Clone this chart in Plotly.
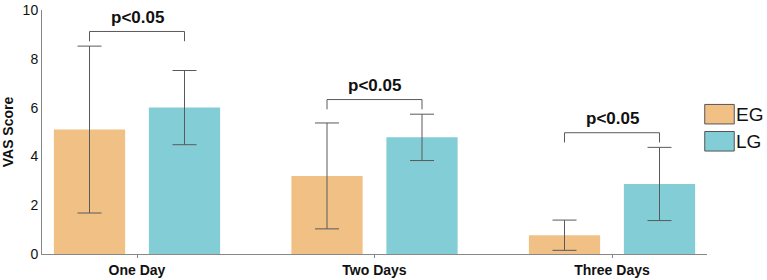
import plotly.graph_objects as go

categories = ["One Day", "Two Days", "Three Days"]
series_names = ["EG", "LG"]
eg_values = [5.1, 3.2, 0.77]
eg_errors = [3.42, 2.17, 0.62]
lg_values = [6.0, 4.78, 2.87]
lg_errors = [1.52, 0.95, 1.5]
p_labels = ["p<0.05", "p<0.05", "p<0.05"]
y_ticks = [0, 2, 4, 6, 8, 10]

colors = ["#F0C085", "#82CDD6"]
err_color = "#5a5a5a"
font_family = "Arial, Liberation Sans, sans-serif"

bar_width = 0.3
offsets = [-0.35, 0.05]

fig = go.Figure()
for name, vals, errs, col, off in zip(series_names, [eg_values, lg_values],
                                      [eg_errors, lg_errors], colors, offsets):
    fig.add_trace(go.Bar(
        x=categories, y=vals, name=name, width=bar_width, offset=off,
        marker=dict(color=col, line=dict(width=0)),
        error_y=dict(type="data", array=errs, visible=True, color=err_color,
                     thickness=1, width=12),
        showlegend=False,
    ))

# significance brackets
shapes = []
annotations = []
for i, cat in enumerate(categories):
    top_eg = eg_values[i] + eg_errors[i]
    top_lg = lg_values[i] + lg_errors[i]
    base = max(top_eg, top_lg) + 0.2
    top = base + 0.4
    x0 = i + offsets[0] + bar_width / 2
    x1 = i + offsets[1] + bar_width / 2
    for xs, ys in [((x0, x0), (base, top)), ((x0, x1), (top, top)), ((x1, x1), (top, base))]:
        shapes.append(dict(type="line", xref="x", yref="y", x0=xs[0], x1=xs[1],
                           y0=ys[0], y1=ys[1], line=dict(color=err_color, width=1)))
    annotations.append(dict(x=(x0 + x1) / 2, y=top + 0.1, xref="x", yref="y",
                            text=f"<b>{p_labels[i]}</b>", showarrow=False,
                            yanchor="bottom", font=dict(size=17, color="#111", family=font_family)))

# custom legend
legend_y = [0.533, 0.422]
for name, col, ly in zip(series_names, colors, legend_y):
    shapes.append(dict(type="rect", xref="paper", yref="paper",
                       x0=0.9966, x1=1.041, y0=ly, y1=ly + 0.08,
                       fillcolor=col, line=dict(color="#555", width=1)))
    annotations.append(dict(x=1.043, y=ly + 0.04, xref="paper", yref="paper",
                            text=name, showarrow=False, xanchor="left", yanchor="middle",
                            xshift=-2,
                            font=dict(size=19, color="#111", family=font_family)))

fig.update_layout(
    width=767, height=280,
    margin=dict(l=42, r=60, t=10, b=26),
    paper_bgcolor="white", plot_bgcolor="white",
    barmode="overlay",
    shapes=shapes, annotations=annotations,
    font=dict(family=font_family, color="#111"),
    xaxis=dict(
        type="category", range=[-0.4, 2.4], showline=True, linecolor="#888", linewidth=1,
        ticks="outside", ticklen=3, tickcolor="#888", showgrid=False, zeroline=False,
        tickfont=dict(size=14, family=font_family, color="#111"),
        tickprefix="<b>", ticksuffix="</b>", automargin=False,
    ),
    yaxis=dict(
        range=[0, 10], tickvals=y_ticks, showline=True, linecolor="#888", linewidth=1,
        ticks="", showgrid=False, zeroline=False, automargin=False,
        tickfont=dict(size=14, family=font_family, color="#111"),
        tickprefix="<b>", ticksuffix="</b>",
        title=dict(text="<b>VAS Score</b>", font=dict(size=14, family=font_family, color="#111"),
                   standoff=6),
    ),
)

fig.write_html("out.html")
